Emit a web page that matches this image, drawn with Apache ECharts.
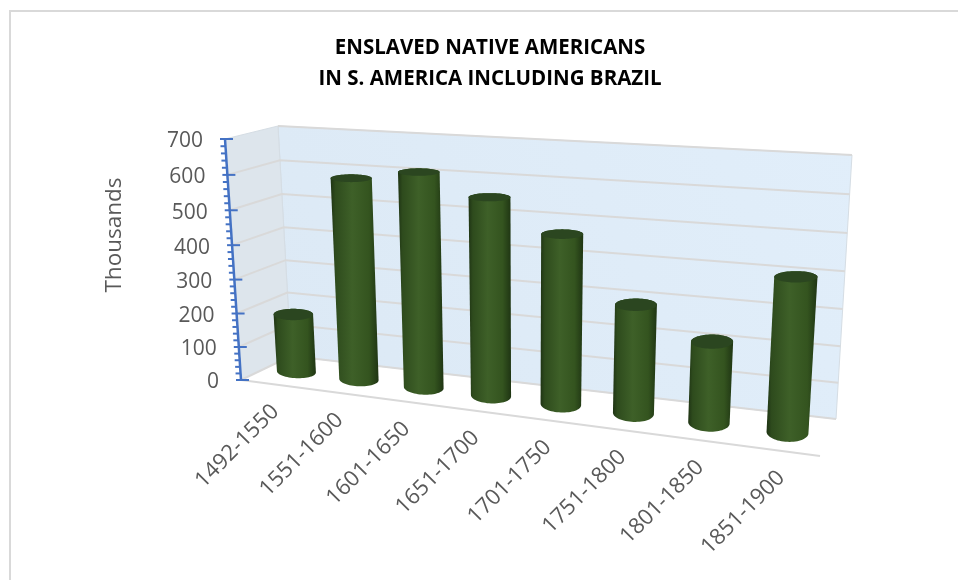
<!DOCTYPE html>
<html><head><meta charset="utf-8">
<style>html,body{margin:0;padding:0;background:#fff}#c{width:958px;height:580px}</style>
<script src="https://cdn.jsdelivr.net/npm/echarts@6/dist/echarts.min.js"></script>
</head><body><div id="c"></div>
<script>
const categories = ['1492-1550','1551-1600','1601-1650','1651-1700','1701-1750','1751-1800','1801-1850','1851-1900'];
const enslavedThousands = [175, 586, 614, 557, 471, 298, 219, 406];
const valueTicks = [0,100,200,300,400,500,600,700];
const minorTicks = [];
for (const t of valueTicks) for (const m of [20,40,60,80]) if (t < 700) minorTicks.push(t + m);
const titleText = 'ENSLAVED NATIVE AMERICANS\nIN S. AMERICA INCLUDING BRAZIL';
const axisName = 'Thousands';

// screen corners of the 3-D box
const box = {
  f0l:[241,380], f1l:[225,139], b0l:[291,356], b1l:[278,126],
  f0r:[820,456], f1r:[838,166], b0r:[836,419], b1r:[852,155]
};
const K = 1.165, KV = 1.05;
function warp(u){ return u/(u+K*(1-u)); }
function warpV(v){ return v/(v+KV*(1-v)); }
function mix(a,b,t){ return [a[0]+(b[0]-a[0])*t, a[1]+(b[1]-a[1])*t]; }
function projW(p,v,w){ // p and v already warped
  const a=mix(mix(box.f0l,box.f0r,p),mix(box.b0l,box.b0r,p),w);
  const b=mix(mix(box.f1l,box.f1r,p),mix(box.b1l,box.b1r,p),w);
  return mix(a,b,v);
}
function proj(u,v,w){ return projW(warp(u),warpV(v),w); }
function norm(params,api,cat,val){
  const c=api.coord([cat,val]), r=params.coordSys;
  return [(c[0]-r.x)/r.width, 1-(c[1]-r.y)/r.height];
}
function hull(pts){
  const s=pts.slice().sort((a,b)=>a[0]-b[0]||a[1]-b[1]);
  const cross=(o,a,b)=>(a[0]-o[0])*(b[1]-o[1])-(a[1]-o[1])*(b[0]-o[0]);
  const lo=[],up=[];
  for(const p of s){while(lo.length>1&&cross(lo[lo.length-2],lo[lo.length-1],p)<=0)lo.pop();lo.push(p);}
  for(const p of s.slice().reverse()){while(up.length>1&&cross(up[up.length-2],up[up.length-1],p)<=0)up.pop();up.push(p);}
  return lo.slice(0,-1).concat(up.slice(0,-1));
}
const RW=0.26;
function ellipse(p,v,tilt){
  const RU=0.0345+0.003*p;
  const c=projW(p,v,0.5), r=projW(p+RU,v,0.5), l=projW(p-RU,v,0.5);
  const f=projW(p,v,0.5-RW), b=projW(p,v,0.5+RW);
  const du=[(r[0]-l[0])/2,(r[1]-l[1])/2*tilt], dh=Math.abs(f[1]-b[1])/2;
  const o=[];
  for(let i=0;i<64;i++){const a=i/64*Math.PI*2;
    o.push([c[0]+du[0]*Math.cos(a), c[1]+du[1]*Math.cos(a)+dh*Math.sin(a)]);}
  return o;
}
const labelFont='21px "Open Sans"';
const catFont='22px "Open Sans"';
const labelColor='#595959';

function renderWalls(params,api){
  const q=(u,v,w)=>proj(u,v,w);
  const ln=(a,b)=>({type:'line',shape:{x1:a[0],y1:a[1],x2:b[0],y2:b[1]},style:{stroke:'#d9d9d9',lineWidth:2}});
  return {type:'group',children:[
    {type:'polygon',shape:{points:[q(0,0,1),q(0,1,1),q(1,1,1),q(1,0,1)]},style:{fill:{type:'linear',x:0,y:1,x2:1,y2:0,colorStops:[{offset:0,color:'#dce9f5'},{offset:1,color:'#e1eefa'}]},stroke:'#d5dde4',lineWidth:1}},
    {type:'polygon',shape:{points:[q(0,0,0),q(0,1,0),q(0,1,1),q(0,0,1)]},style:{fill:'#dde5ec',stroke:'#d5dde4',lineWidth:1}},
    ln(q(0,1,1),q(1,1,1)), ln(q(0,0,0),q(1,0,0)), ln(q(0,0,0),q(0,0,1)), ln(q(0,0,1),q(1,0,1))
  ]};
}
function renderGrid(params,api){
  const v=norm(params,api,0,api.value(1))[1];
  const a=proj(0,v,0),b=proj(0,v,1),c=proj(1,v,1);
  return {type:'polyline',shape:{points:[a,b,c]},style:{fill:null,stroke:'#d9d9d9',lineWidth:2}};
}
function renderMajor(params,api){
  const val=api.value(1), v=norm(params,api,0,val)[1];
  const p=proj(0,v,0);
  return {type:'group',children:[
    {type:'line',shape:{x1:p[0]-5,y1:p[1],x2:p[0]+8,y2:p[1]},style:{stroke:'#4472c4',lineWidth:2}},
    {type:'text',style:{text:String(val),x:p[0]-22,y:p[1]+2.5,align:'right',verticalAlign:'middle',font:labelFont,fill:labelColor}}
  ]};
}
function renderMinor(params,api){
  const v=norm(params,api,0,api.value(1))[1];
  const p=proj(0,v,0);
  return {type:'line',shape:{x1:p[0]-5,y1:p[1],x2:p[0],y2:p[1]},style:{stroke:'#4472c4',lineWidth:2}};
}
function renderAxisLine(params,api){
  const a=proj(0,0,0),b=proj(0,1,0);
  return {type:'line',shape:{x1:a[0],y1:a[1],x2:b[0],y2:b[1]},style:{stroke:'#4472c4',lineWidth:2.5}};
}
function renderCat(params,api){
  const i=api.value(0);
  const u=norm(params,api,i,0)[0];
  const p=proj(u,0,0);
  return {type:'text',x:p[0]+3,y:p[1]+24,rotation:Math.PI/4,
    style:{text:categories[i],x:0,y:0,align:'right',verticalAlign:'middle',font:catFont,fill:labelColor}};
}
function renderCyl(params,api){
  const i=api.value(0);
  const n=norm(params,api,i,api.value(1));
  const p=warp(n[0]);
  const bot=ellipse(p,0,0.3), top=ellipse(p,warpV(n[1]),0);
  return {type:'group',children:[
    {type:'polygon',shape:{points:hull(bot.concat(top))},style:{fill:{type:'linear',x:0,y:0,x2:1,y2:0,colorStops:[
      {offset:0,color:'#1f3414'},{offset:0.1,color:'#2e4b1d'},{offset:0.45,color:'#3e6028'},{offset:0.8,color:'#34541f'},{offset:1,color:'#1f3513'}]}}},
    {type:'polygon',shape:{points:top},style:{fill:'#2b4620'}}
  ]};
}
const catData=categories.map((c,i)=>[i,enslavedThousands[i]]);
function custom(renderItem,data){return {type:'custom',renderItem,data,silent:true,animation:false,clip:false};}
const chart=echarts.init(document.getElementById('c'),null,{renderer:'canvas'});
chart.setOption({
  animation:false,
  backgroundColor:'#fff',
  title:{text:titleText,left:485,top:28,textAlign:'center',
    textStyle:{fontFamily:'"Open Sans"',fontWeight:'bold',fontSize:20.5,color:'#000',lineHeight:31}},
  grid:{left:0,right:0,top:0,bottom:0},
  xAxis:{type:'category',data:categories,show:false},
  yAxis:{type:'value',min:0,max:700,interval:100,show:false},
  graphic:[
    {type:'polyline',shape:{points:[[10,580],[10,11],[958,11]]},style:{fill:null,stroke:'#d9d9d9',lineWidth:2},silent:true},
    {type:'text',x:115,y:235,rotation:Math.PI/2,style:{text:axisName,align:'center',verticalAlign:'middle',font:'22.5px "Open Sans"',fill:labelColor},silent:true}
  ],
  series:[
    custom(renderWalls,[[0,0]]),
    custom(renderGrid,valueTicks.slice(1,-1).map(t=>[0,t])),
    custom(renderAxisLine,[[0,0]]),
    custom(renderMinor,minorTicks.map(t=>[0,t])),
    custom(renderMajor,valueTicks.map(t=>[0,t])),
    custom(renderCat,catData),
    custom(renderCyl,catData)
  ]
});
</script></body></html>
